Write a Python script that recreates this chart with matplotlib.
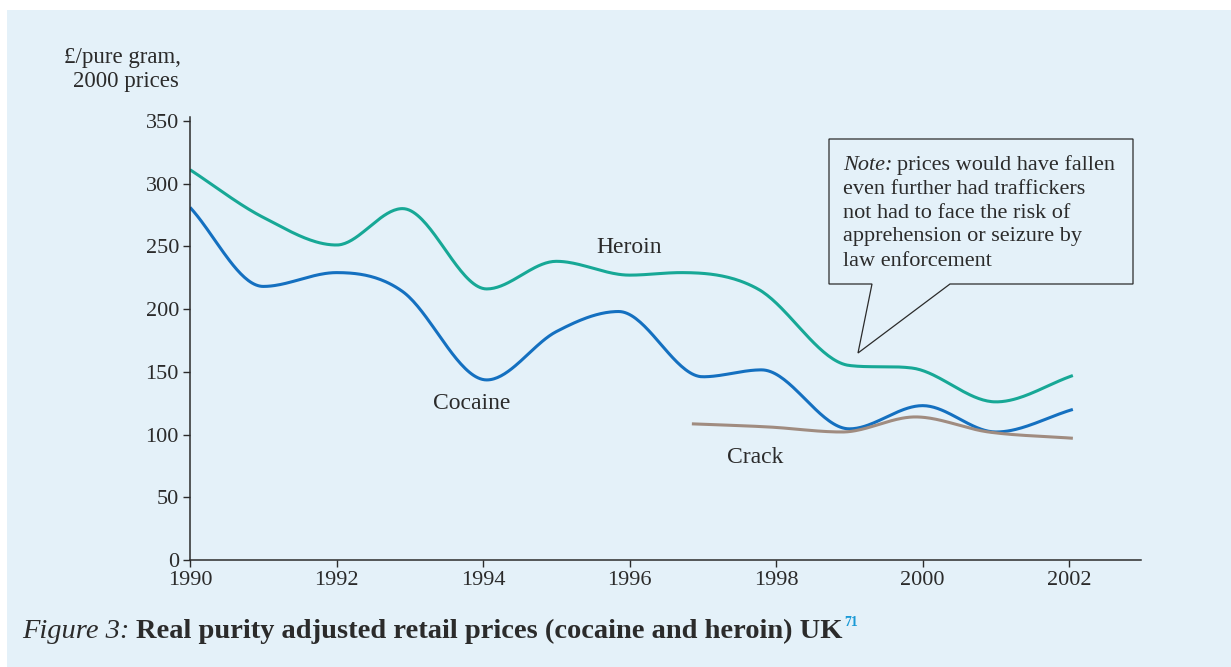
#!/usr/bin/env python3
import matplotlib
matplotlib.use("Agg")
import matplotlib.pyplot as plt
from matplotlib.patches import Rectangle, Polygon
import numpy as np

# values (£ per pure gram, 2000 prices)
heroin_years = [1990, 1991, 1992, 1992.9, 1994.05, 1995, 1996, 1996.7, 1997.75, 1999, 1999.85, 2001, 2002.05]
heroin_price = [311, 273, 251, 280, 216, 238, 227, 229, 216, 155, 153, 126, 147]

cocaine_years = [1990, 1991, 1992, 1992.9, 1994.05, 1995, 1995.85, 1997, 1997.8, 1999, 2000, 2001, 2002.05]
cocaine_price = [281, 218, 229, 214, 143.5, 182, 198, 146, 151.5, 104.5, 123, 102, 120]

crack_years = [1996.85, 1997.9, 1998.9, 1999.9, 2000.9, 2002.05]
crack_price = [108.5, 106, 102, 114, 102, 97]

x_ticks = [1990, 1992, 1994, 1996, 1998, 2000, 2002]
y_ticks = [0, 50, 100, 150, 200, 250, 300, 350]

BG = "#e4f1f9"
INK = "#2b2b2b"
SERIF = ["Liberation Serif", "DejaVu Serif"]
W, H = 1231, 667


def smooth(xs, ys, n=40):
  # cubic hermite through the points: catmull-rom slopes, held back so the
  # curve never overshoots (flat at peaks and troughs)
  x = np.asarray(xs, float)
  y = np.asarray(ys, float)
  h = np.diff(x)
  d = np.diff(y) / h
  m = np.zeros_like(y)
  for i in range(1, len(x)-1):
    if d[i-1]*d[i] > 0:
      s = (y[i+1] - y[i-1]) / (x[i+1] - x[i-1])
      lim = 3*min(abs(d[i-1]), abs(d[i]))
      m[i] = np.sign(s) * min(abs(s), lim)
  m[0] = d[0]
  m[-1] = d[-1]
  xo, yo = [], []
  for i in range(len(x)-1):
    t = np.linspace(0, 1, n)
    if i > 0:
      t = t[1:]
    h00 = 2*t**3 - 3*t**2 + 1
    h10 = t**3 - 2*t**2 + t
    h01 = -2*t**3 + 3*t**2
    h11 = t**3 - t**2
    xo.append(x[i] + t*h[i])
    yo.append(h00*y[i] + h10*h[i]*m[i] + h01*y[i+1] + h11*h[i]*m[i+1])
  return np.concatenate(xo), np.concatenate(yo)


def fx(px):
  return px / W


def fy(py):
  return 1 - py / H


fig = plt.figure(figsize=(12.31, 6.67), dpi=100, facecolor="white")
fig.patches.append(Rectangle((fx(7), 0), 1, fy(10), transform=fig.transFigure,
                             facecolor=BG, edgecolor="none", zorder=-5))

ax = fig.add_axes([fx(190), fy(560), fx(1141)-fx(190), fy(117)-fy(560)])
ax.set_zorder(2)
ax.set_facecolor("none")
ax.set_xlim(1990, 2002.98)
ax.set_ylim(0, 353)

for name in ["top", "right"]:
  ax.spines[name].set_visible(False)
for name in ["left", "bottom"]:
  ax.spines[name].set_color(INK)
  ax.spines[name].set_linewidth(1.1)

ax.set_xticks(x_ticks)
ax.set_yticks(y_ticks)
ax.tick_params(direction="out", length=5, width=1, color=INK, labelcolor=INK, labelsize=16, pad=3)
for lab in ax.get_xticklabels() + ax.get_yticklabels():
  lab.set_family(SERIF)

x, y = smooth(heroin_years, heroin_price)
ax.plot(x, y, color="#17a896", lw=2.2, solid_capstyle="butt")
x, y = smooth(cocaine_years, cocaine_price)
ax.plot(x, y, color="#1470c0", lw=2.2, solid_capstyle="butt")
x, y = smooth(crack_years, crack_price)
ax.plot(x, y, color="#a08c80", lw=2.2, solid_capstyle="butt")

ax.text(1996.0, 249, "Heroin", ha="center", va="center", fontsize=17, color=INK, family=SERIF)
ax.text(1993.84, 125, "Cocaine", ha="center", va="center", fontsize=17, color=INK, family=SERIF)
ax.text(1997.71, 82, "Crack", ha="center", va="center", fontsize=17, color=INK, family=SERIF)

# axis title
fig.text(fx(123), fy(57), "£/pure gram,", ha="center", va="center", fontsize=16.5, color=INK, family=SERIF)
fig.text(fx(126), fy(82), "2000 prices", ha="center", va="center", fontsize=16.5, color=INK, family=SERIF)

# callout box
pts = [(829, 139), (1133, 139), (1133, 284), (950, 284), (858, 353), (872, 284), (829, 284)]
fig.patches.append(Polygon([(fx(a), fy(b)) for a, b in pts], closed=True, transform=fig.transFigure,
                           facecolor=BG, edgecolor=INK, lw=0.9, zorder=3))

note_lines = ["prices would have fallen", "even further had traffickers", "not had to face the risk of",
              "apprehension or seizure by", "law enforcement"]
fig.canvas.draw()
r = fig.canvas.get_renderer()
t = fig.text(fx(843), fy(165), "Note:", ha="left", va="center", fontsize=16, color=INK,
             family=SERIF, style="italic", zorder=4)
bb = t.get_window_extent(r)
fig.text(bb.x1 / fig.bbox.width + fx(5), fy(165), note_lines[0], ha="left", va="center",
         fontsize=16, color=INK, family=SERIF, zorder=4)
for i, line in enumerate(note_lines[1:]):
  fig.text(fx(843), fy(189 + 24*i), line, ha="left", va="center", fontsize=16, color=INK,
           family=SERIF, zorder=4)

# caption
t = fig.text(fx(22), fy(631), "Figure 3:", ha="left", va="center", fontsize=20.5, color=INK,
             family=SERIF, style="italic")
bb = t.get_window_extent(r)
t2 = fig.text(bb.x1 / fig.bbox.width + fx(7), fy(631), "Real purity adjusted retail prices (cocaine and heroin) UK",
              ha="left", va="center", fontsize=20.5, color=INK, family=SERIF, weight="bold")
bb = t2.get_window_extent(r)
fig.text(bb.x1 / fig.bbox.width + fx(1), fy(623), "71", ha="left", va="center", fontsize=10,
         color="#1a9ad6", family=SERIF, weight="bold")

fig.savefig("out.png", dpi=100, facecolor="white")
